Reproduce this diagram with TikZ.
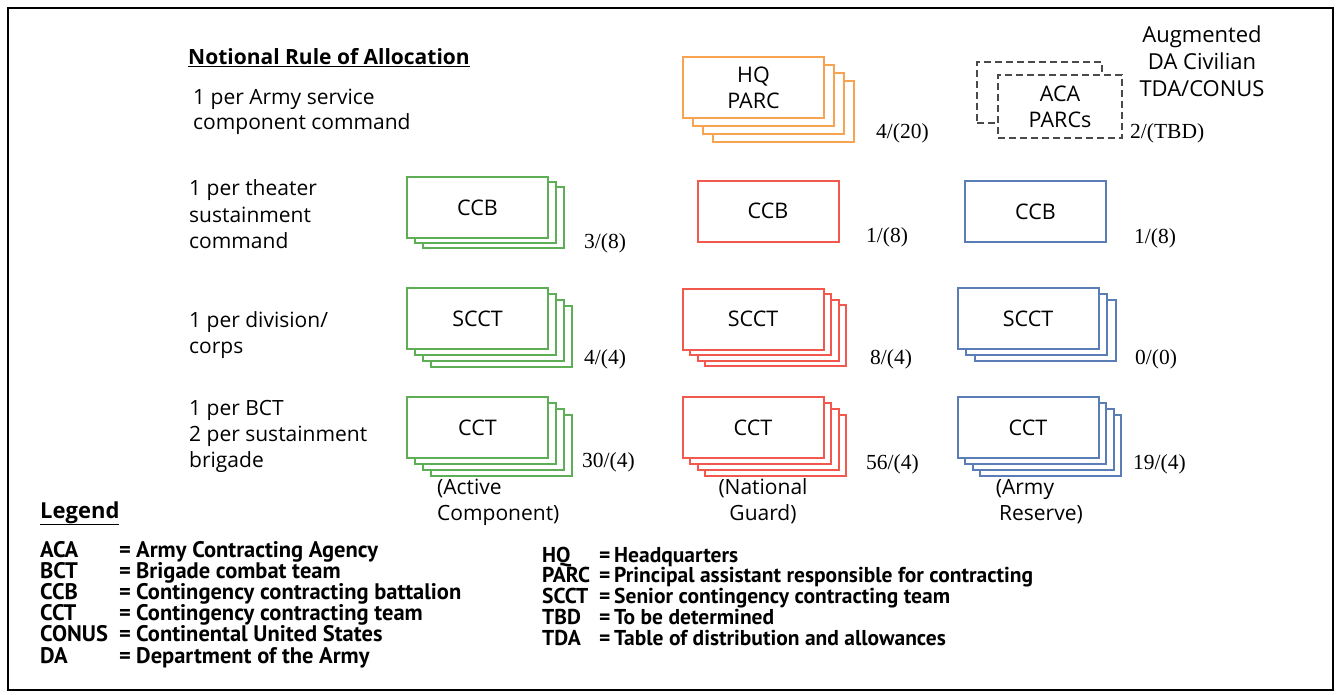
\documentclass[tikz,border=0pt]{standalone}
\usepackage{fontspec}
\setmainfont{Open Sans}
\newfontfamily\legfont{PT Sans}
\newfontfamily\numfont{Liberation Serif}
\definecolor{corange}{HTML}{F7A350}
\definecolor{cgreen}{HTML}{5DAE55}
\definecolor{cred}{HTML}{F2584E}
\definecolor{cblue}{HTML}{5B7DB5}
\definecolor{cdash}{HTML}{4A4A4A}
\newcommand\stk[5]{\foreach \k in {#2} \node[card=#5, xshift=\k*#3pt, yshift=-\k*#4pt] at #1 {};}
\begin{document}
\begin{tikzpicture}[x=1pt,y=-1pt,
 card/.style={draw=#1, fill=white, line width=2pt, minimum width=141pt, minimum height=61pt, inner sep=0pt, font=\fontsize{21.5}{26}\selectfont, align=center},
 dashbox/.style={draw=cdash, fill=white, line width=2.5pt, dash pattern=on 7pt off 4pt, inner sep=0pt, font=\fontsize{21.5}{26}\selectfont, align=center},
 lbl/.style={font=\fontsize{21}{26}\selectfont, align=left, anchor=base west, inner sep=0pt},
 ctr/.style={font=\fontsize{21}{26}\selectfont, align=center, inner sep=0pt},
 cnt/.style={font=\numfont\fontsize{21.5}{24}\selectfont, anchor=west, inner sep=0pt},
 leg/.style={font=\legfont\bfseries\fontsize{22.5}{21.2}\selectfont, align=left, anchor=base west, inner sep=0pt},
 legr/.style={font=\legfont\bfseries\fontsize{21.5}{20.75}\selectfont, align=left, anchor=base west, inner sep=0pt}]
\useasboundingbox (0,0) rectangle (1340,694);
\draw[line width=1.5pt] (8,8) rectangle (1333,690);
% headings and rules
\node[lbl, font=\bfseries\fontsize{21}{26}\selectfont] (title) at (188,64.5) {\underline{Notional Rule of Allocation}};
\node[lbl, font=\fontsize{21}{25}\selectfont] (r1) at (193,129.5) {1 per Army service\\component command};
\node[lbl, font=\fontsize{21}{26.5}\selectfont] (r2) at (189,248.5) {1 per theater\\sustainment\\command};
\node[lbl] (r3) at (189,353.5) {1 per division/\\corps};
\node[lbl] (r4) at (189,467.5) {1 per BCT\\2 per sustainment\\brigade};
% HQ PARC
\stk{(753.5,87.5)}{3,2,1}{10}{8}{corange}
\node[card=corange] (hq) at (753.5,87.5) {HQ\\PARC};
\node[cnt] (hqn) at (876,133) {4/(20)};
% ACA
\node[dashbox, minimum width=125pt, minimum height=61pt] (acab) at (1039.5,92.5) {};
\node[dashbox, minimum width=124pt, minimum height=63pt] (aca) at (1060,106.5) {ACA\\PARCs};
\node[cnt] (acan) at (1130,133) {2/(TBD)};
\node[ctr, font=\fontsize{22}{27}\selectfont] (aug) at (1202,61.5) {Augmented\\DA Civilian\\TDA/CONUS};
% CCB row
\stk{(477.5,207.5)}{2,1}{8}{5}{cgreen}
\node[card=cgreen] (ccbg) at (477.5,207.5) {CCB};
\node[cnt] (ccbgn) at (584,243) {3/(8)};
\node[card=cred] (ccbr) at (768,211) {CCB};
\node[cnt] (ccbrn) at (866,237) {1/(8)};
\node[card=cblue] (ccbb) at (1035.5,211.5) {CCB};
\node[cnt] (ccbbn) at (1134,238) {1/(8)};
% SCCT row
\stk{(477.5,318.5)}{3,2,1}{8}{6}{cgreen}
\node[card=cgreen] (scctg) at (477.5,318.5) {SCCT};
\node[cnt] (scctgn) at (584,359) {4/(4)};
\stk{(753,319)}{3,2,1}{7.5}{5.5}{cred}
\node[card=cred] (scctr) at (753,319) {SCCT};
\node[cnt] (scctrn) at (870,359) {8/(4)};
\stk{(1028,318.5)}{2,1}{8.5}{6}{cblue}
\node[card=cblue] (scctb) at (1028,318.5) {SCCT};
\node[cnt] (scctbn) at (1135,359) {0/(0)};
% CCT row
\stk{(477.5,427.5)}{3,2,1}{8}{6}{cgreen}
\node[card=cgreen] (cctg) at (477.5,427.5) {CCT};
\node[cnt] (cctgn) at (582,462) {30/(4)};
\stk{(753,427.5)}{3,2,1}{7.5}{6}{cred}
\node[card=cred] (cctr) at (753,427.5) {CCT};
\node[cnt] (cctrn) at (866,464) {56/(4)};
\stk{(1028,427.5)}{3,2,1}{7.5}{6}{cblue}
\node[card=cblue] (cctb) at (1028,427.5) {CCT};
\node[cnt] (cctbn) at (1133,464) {19/(4)};
% column labels
\node[lbl] (ac) at (437,520.5) {(Active\\Component)};
\node[ctr, anchor=base] (ng) at (763,520.5) {(National\\Guard)};
\node[ctr, anchor=base] (ar) at (1033,520.5) {(Army\hspace*{16pt}\\\hspace*{16pt}Reserve)};
% legend
\node[lbl, font=\bfseries\fontsize{22}{26}\selectfont] (legend) at (40,518) {\underline{Legend}};
\node[leg] (la) at (40,663) {ACA\\BCT\\CCB\\CCT\\CONUS\\DA};
\node[leg] (lae) at (119,663) {=\\=\\=\\=\\=\\=};
\node[leg] (lad) at (136,663) {Army Contracting Agency\\Brigade combat team\\Contingency contracting battalion\\Contingency contracting team\\Continental United States\\Department of the Army};
\node[legr] (lb) at (542,645) {HQ\\PARC\\SCCT\\TBD\\TDA};
\node[legr] (lbe) at (599,645) {=\\=\\=\\=\\=};
\node[legr] (lbd) at (614,645) {Headquarters\\Principal assistant responsible for contracting\\Senior contingency contracting team\\To be determined\\Table of distribution and allowances};
\end{tikzpicture}
\end{document}
